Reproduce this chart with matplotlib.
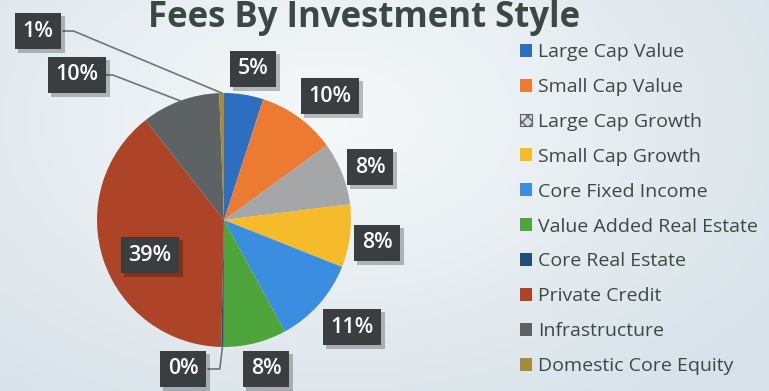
import numpy as np
import matplotlib
matplotlib.use("Agg")
import matplotlib.pyplot as plt
from matplotlib.patches import Patch
import matplotlib.patheffects as pe

# Fee share by investment style (percent of total fees)
styles = [
    "Large Cap Value",
    "Small Cap Value",
    "Large Cap Growth",
    "Small Cap Growth",
    "Core Fixed Income",
    "Value Added Real Estate",
    "Core Real Estate",
    "Private Credit",
    "Infrastructure",
    "Domestic Core Equity",
]
fee_pct = [5, 10, 8, 8, 11, 8, 0.3, 39, 10, 0.6]
style_colors = [
    "#2c6fc0", "#ec7a30", "#a4a6a8", "#f6bb2b", "#3b8de0",
    "#4ea53c", "#1f4e79", "#ad4327", "#5d6265", "#a68b3a",
]

W, H = 769, 391
fig = plt.figure(figsize=(W / 100, H / 100), dpi=100)

# soft light background
bg = fig.add_axes([0, 0, 1, 1], zorder=-10)
yy, xx = np.mgrid[0:H, 0:W]
d = np.sqrt(((xx - 330) / 520.0) ** 2 + ((yy - 120) / 330.0) ** 2)
d = np.clip(d, 0, 1)
c0 = np.array([0.965, 0.975, 0.980])
c1 = np.array([0.850, 0.890, 0.915])
img = c0[None, None, :] * (1 - d[..., None]) + c1[None, None, :] * d[..., None]
bg.imshow(img, extent=[0, W, 0, H], origin="upper", aspect="auto")
bg.axis("off")


def px_box(cx, cy, r):
    return [(cx - r) / W, (H - cy - r) / H, 2 * r / W, 2 * r / H]


cx, cy, R = 224, 220, 127
ax = fig.add_axes(px_box(cx, cy, R))
wedges, _ = ax.pie(
    fee_pct, colors=style_colors, startangle=90, counterclock=False,
    radius=1.0, wedgeprops=dict(linewidth=0),
)
ax.set_xlim(-1, 1)
ax.set_ylim(-1, 1)
ax.set_aspect("equal")
ax.axis("off")

total = sum(fee_pct)
cum = np.cumsum([0] + fee_pct[:-1])
mid_deg = [(c + v / 2) / total * 360 for c, v in zip(cum, fee_pct)]

# data-label callout positions, in pie-radius units
label_xy = [
    (0.228, 1.189), (0.835, 0.976), (1.150, 0.417), (1.205, -0.181),
    (1.008, -0.843), (0.331, -1.173), (-0.323, -1.173), (-0.583, -0.276),
    (-1.157, 1.142), (-1.465, 1.488),
]
leader = [6, 8, 9]

# leader lines for labels placed away from their slices
for i in leader:
    t = np.deg2rad(mid_deg[i])
    ex, ey = np.sin(t), np.cos(t)
    lx, ly = label_xy[i]
    sx = lx + 0.2
    kx = sx + (0.08 if i != 6 else 0.09)
    ax.plot([sx, kx, ex], [ly, ly, ey], color="#6f7578", lw=1.2,
            clip_on=False, zorder=1)

shadow = [pe.SimplePatchShadow(offset=(2.5, -2.5), shadow_rgbFace="#000000",
                               alpha=0.25), pe.Normal()]
for i, (lx, ly) in enumerate(label_xy):
    txt = f"{fee_pct[i]:.0f}%"
    t = ax.text(lx, ly, txt, ha="center", va="center", fontsize=15.5,
                color="white", family="Open Sans", fontweight="semibold",
                bbox=dict(boxstyle="square,pad=0.36", fc="#3a3e40", ec="none"),
                clip_on=False, zorder=4)
    t.get_bbox_patch().set_path_effects(shadow)

# title
fig.text(364 / W, (H - 27) / H, "Fees By Investment Style", ha="center",
         va="baseline", fontsize=25, fontweight="bold", family="Open Sans",
         color="#3c4844")

# legend
handles = []
for name, col in zip(styles, style_colors):
    if name == "Large Cap Growth":
        handles.append(Patch(facecolor="#d9dde0", edgecolor="#5d6265",
                             hatch="xxx", linewidth=0.8, label=name))
    else:
        handles.append(Patch(facecolor=col, edgecolor="none", label=name))
leg = fig.legend(
    handles=handles, loc="upper left",
    bbox_to_anchor=(520 / W, (H - 43) / H),
    frameon=False, handlelength=0.6, handleheight=0.65,
    handletextpad=0.33, labelspacing=0.87, borderaxespad=0, borderpad=0,
    prop=dict(family="Open Sans", size=14),
)
for t in leg.get_texts():
    t.set_color("#3c4844")

fig.savefig("out.png", dpi=100)
